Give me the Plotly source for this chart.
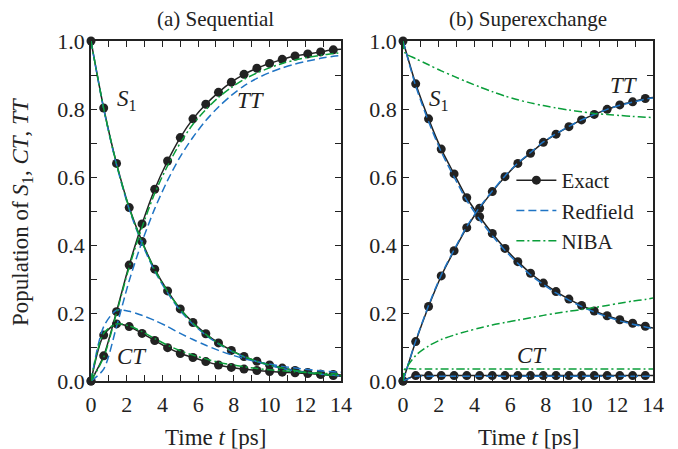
import plotly.graph_objects as go

# ---------------- data ----------------
t_mark = [0, 0.71, 1.43, 2.14, 2.86, 3.57, 4.29, 5.0, 5.71, 6.43, 7.14,
          7.86, 8.57, 9.29, 10.0, 10.71, 11.43, 12.14, 12.86, 13.57]
t_line = [0, 0.71, 1.43, 2.14, 2.86, 3.57, 4.29, 5.0, 5.71, 6.43, 7.14,
          7.86, 8.57, 9.29, 10.0, 10.71, 11.43, 12.14, 12.86, 13.57, 14.0]

# (a) Sequential
s1_a = [1.0, 0.803, 0.640, 0.510, 0.410, 0.329, 0.265, 0.212, 0.172, 0.139, 0.112,
        0.090, 0.072, 0.058, 0.047, 0.038, 0.031, 0.025, 0.020, 0.016, 0.014]
ct_a = [0.0, 0.135, 0.168, 0.160, 0.140, 0.119, 0.098, 0.081, 0.069, 0.057, 0.047,
        0.040, 0.035, 0.031, 0.028, 0.026, 0.024, 0.022, 0.020, 0.019, 0.018]
tt_a = [0.0, 0.074, 0.204, 0.341, 0.462, 0.564, 0.647, 0.716, 0.771, 0.814, 0.849,
        0.879, 0.902, 0.920, 0.934, 0.946, 0.956, 0.962, 0.968, 0.974, 0.976]

s1_a_red = [1.0, 0.800, 0.636, 0.505, 0.404, 0.323, 0.259, 0.207, 0.167, 0.135, 0.109,
            0.088, 0.071, 0.057, 0.046, 0.037, 0.030, 0.025, 0.020, 0.017, 0.015]
ct_a_red = [0.0, 0.160, 0.208, 0.205, 0.193, 0.178, 0.160, 0.140, 0.122, 0.105, 0.090,
            0.077, 0.066, 0.057, 0.050, 0.043, 0.038, 0.034, 0.030, 0.027, 0.026]
tt_a_red = [0.0, 0.035, 0.160, 0.295, 0.410, 0.507, 0.590, 0.660, 0.717, 0.766, 0.806,
            0.840, 0.868, 0.890, 0.907, 0.921, 0.932, 0.941, 0.949, 0.955, 0.957]

s1_a_niba = [1.0, 0.802, 0.638, 0.508, 0.408, 0.327, 0.263, 0.211, 0.170, 0.137, 0.111,
             0.089, 0.072, 0.058, 0.047, 0.038, 0.031, 0.025, 0.020, 0.017, 0.015]
ct_a_niba = [0.0, 0.140, 0.168, 0.162, 0.145, 0.125, 0.105, 0.089, 0.076, 0.065, 0.055,
             0.048, 0.042, 0.037, 0.033, 0.030, 0.027, 0.025, 0.023, 0.021, 0.020]
tt_a_niba = [0.0, 0.070, 0.200, 0.335, 0.452, 0.552, 0.633, 0.700, 0.755, 0.798, 0.834,
             0.863, 0.887, 0.906, 0.921, 0.934, 0.944, 0.952, 0.958, 0.963, 0.966]

# (b) Superexchange
s1_b = [1.0, 0.874, 0.771, 0.682, 0.609, 0.539, 0.483, 0.434, 0.390, 0.351, 0.317,
        0.288, 0.263, 0.241, 0.222, 0.206, 0.192, 0.180, 0.170, 0.161, 0.156]
ct_b = [0.0, 0.016, 0.016, 0.016, 0.016, 0.016, 0.016, 0.016, 0.016, 0.016, 0.016,
        0.016, 0.016, 0.016, 0.016, 0.016, 0.016, 0.016, 0.016, 0.016, 0.016]
tt_b = [0.0, 0.116, 0.219, 0.309, 0.383, 0.451, 0.508, 0.557, 0.601, 0.640, 0.670,
        0.702, 0.726, 0.748, 0.768, 0.784, 0.799, 0.812, 0.821, 0.831, 0.834]

s1_b_red = [1.0, 0.868, 0.763, 0.674, 0.600, 0.531, 0.475, 0.427, 0.384, 0.346, 0.312,
            0.284, 0.259, 0.238, 0.219, 0.203, 0.189, 0.177, 0.167, 0.159, 0.154]
ct_b_red = [0.0, 0.014, 0.014, 0.014, 0.014, 0.014, 0.014, 0.014, 0.014, 0.014, 0.014,
            0.014, 0.014, 0.014, 0.014, 0.014, 0.014, 0.014, 0.014, 0.014, 0.014]
tt_b_red = [0.0, 0.118, 0.222, 0.312, 0.386, 0.454, 0.511, 0.559, 0.603, 0.641, 0.672,
            0.703, 0.727, 0.749, 0.768, 0.784, 0.799, 0.811, 0.820, 0.829, 0.832]

t_niba_b = [0, 0.1, 0.71, 1.43, 2.14, 2.86, 3.57, 4.29, 5.0, 5.71, 6.43, 7.14,
            7.86, 8.57, 9.29, 10.0, 10.71, 11.43, 12.14, 12.86, 13.57, 14.0]
s1_b_niba = [1.0, 0.966, 0.948, 0.930, 0.912, 0.896, 0.880, 0.865, 0.851, 0.838, 0.827,
             0.818, 0.810, 0.803, 0.797, 0.792, 0.787, 0.784, 0.781, 0.778, 0.776, 0.775]
ct_b_niba = [0.0, 0.035, 0.035, 0.035, 0.035, 0.035, 0.035, 0.035, 0.035, 0.035, 0.035,
             0.035, 0.035, 0.035, 0.035, 0.035, 0.035, 0.035, 0.035, 0.035, 0.035, 0.035]
tt_b_niba = [0.0, 0.030, 0.075, 0.103, 0.122, 0.135, 0.146, 0.156, 0.165, 0.172, 0.179,
             0.186, 0.193, 0.199, 0.205, 0.210, 0.216, 0.222, 0.229, 0.235, 0.240, 0.244]

x_tickvals = list(range(0, 15))
x_ticktext = [str(v) if v % 2 == 0 else "" for v in x_tickvals]
y_tickvals = [0, 0.1, 0.2, 0.3, 0.4, 0.5, 0.6, 0.7, 0.8, 0.9, 1.0]
y_ticktext = ["0.0", "", "0.2", "", "0.4", "", "0.6", "", "0.8", "", "1.0"]

# ---------------- style ----------------
FONT = "Liberation Serif, Times New Roman, serif"
BLACK = "#222222"
BLUE = "#1f74c4"
GREEN = "#0a9e3a"
RED_DASH = "8px,4px"
NIBA_DASH = "8px,3px,2px,3px"

fig = go.Figure()

panels = [
    ("x", "y", t_line, t_line, [s1_a, ct_a, tt_a], [s1_a_red, ct_a_red, tt_a_red],
     [s1_a_niba, ct_a_niba, tt_a_niba]),
    ("x2", "y2", t_line, t_niba_b, [s1_b, ct_b, tt_b], [s1_b_red, ct_b_red, tt_b_red],
     [s1_b_niba, ct_b_niba, tt_b_niba]),
]

for xa, ya, tl, tn, ex, red, nib in panels:
    for ys in ex:
        fig.add_trace(go.Scatter(x=tl, y=ys, xaxis=xa, yaxis=ya, mode="lines",
                                 line=dict(color=BLACK, width=1.5, shape="spline", smoothing=0.8),
                                 showlegend=False, cliponaxis=False))
        fig.add_trace(go.Scatter(x=t_mark, y=ys[:len(t_mark)], xaxis=xa, yaxis=ya, mode="markers",
                                 marker=dict(color=BLACK, size=9, symbol="circle"),
                                 showlegend=False, cliponaxis=False))
    for ys in red:
        fig.add_trace(go.Scatter(x=tl, y=ys, xaxis=xa, yaxis=ya, mode="lines",
                                 line=dict(color=BLUE, width=1.5, dash=RED_DASH,
                                           shape="spline", smoothing=0.8),
                                 showlegend=False, cliponaxis=False))
    for ys in nib:
        fig.add_trace(go.Scatter(x=tn, y=ys, xaxis=xa, yaxis=ya, mode="lines",
                                 line=dict(color=GREEN, width=1.5, dash=NIBA_DASH,
                                           shape="spline", smoothing=0.8),
                                 showlegend=False, cliponaxis=False))

# legend-only entries
fig.add_trace(go.Scatter(x=[None], y=[None], xaxis="x2", yaxis="y2", mode="lines+markers",
                         name="Exact", line=dict(color=BLACK, width=1.5),
                         marker=dict(color=BLACK, size=9)))
fig.add_trace(go.Scatter(x=[None], y=[None], xaxis="x2", yaxis="y2", mode="lines",
                         name="Redfield", line=dict(color=BLUE, width=1.5, dash=RED_DASH)))
fig.add_trace(go.Scatter(x=[None], y=[None], xaxis="x2", yaxis="y2", mode="lines",
                         name="NIBA", line=dict(color=GREEN, width=1.5, dash=NIBA_DASH)))

axis_common = dict(showgrid=False, zeroline=False, showline=True, linecolor=BLACK, linewidth=1.5,
                   mirror="ticks", ticks="inside", ticklen=6, tickwidth=1, tickcolor=BLACK,
                   tickfont=dict(family=FONT, size=22, color=BLACK))

xax = dict(axis_common, range=[0, 14], tickmode="array", tickvals=x_tickvals,
           ticktext=x_ticktext, ticklabelstandoff=3)
yax = dict(axis_common, range=[0, 1], tickmode="array", tickvals=y_tickvals,
           ticktext=y_ticktext)

# page body adds an ~8px offset, so the figure is 8px smaller and margins shifted
fig.update_layout(
    width=670, height=441,
    margin=dict(l=83, r=25, t=33, b=68),
    paper_bgcolor="white", plot_bgcolor="white",
    font=dict(family=FONT, size=22, color=BLACK),
    xaxis=dict(xax, domain=[0, 0.4448], anchor="y"),
    yaxis=dict(yax, domain=[0, 1], anchor="x"),
    xaxis2=dict(xax, domain=[0.5552, 1], anchor="y2"),
    yaxis2=dict(yax, domain=[0, 1], anchor="x2"),
    legend=dict(x=0.748, y=0.65, xanchor="left", yanchor="top", bgcolor="rgba(255,255,255,0)",
                font=dict(family=FONT, size=21, color=BLACK), itemwidth=40,
                tracegroupgap=0),
    showlegend=True,
)

TXT = dict(family=FONT, size=23, color=BLACK)
TITLE = dict(family=FONT, size=21, color=BLACK)
ann_font = dict(family=FONT, size=23, color=BLACK)
annotations = [
    dict(text="(a) Sequential", xref="paper", yref="paper", x=0.2224, y=1.0, yshift=22,
         xanchor="center", yanchor="middle", showarrow=False, font=TITLE),
    dict(text="(b) Superexchange", xref="paper", yref="paper", x=0.7776, y=1.0, yshift=22,
         xanchor="center", yanchor="middle", showarrow=False, font=TITLE),
    dict(text="Time <i>t</i> [ps]", xref="paper", yref="paper", x=0.2224, y=-0.165,
         xanchor="center", yanchor="middle", showarrow=False, font=TXT),
    dict(text="Time <i>t</i> [ps]", xref="paper", yref="paper", x=0.7776, y=-0.165,
         xanchor="center", yanchor="middle", showarrow=False, font=TXT),
    dict(text="Population of <i>S</i><sub>1</sub>, <i>CT</i>, <i>TT</i>", xref="paper",
         yref="paper", x=-0.1228, y=0.5, textangle=-90, xanchor="center", yanchor="middle",
         showarrow=False, font=TXT),
    dict(text="<i>S</i><sub>1</sub>", xref="x", yref="y", x=2.0, y=0.826, showarrow=False, font=ann_font),
    dict(text="<i>TT</i>", xref="x", yref="y", x=8.95, y=0.826, showarrow=False, font=ann_font),
    dict(text="<i>CT</i>", xref="x", yref="y", x=2.3, y=0.072, showarrow=False, font=ann_font),
    dict(text="<i>S</i><sub>1</sub>", xref="x2", yref="y2", x=2.0, y=0.826, showarrow=False, font=ann_font),
    dict(text="<i>TT</i>", xref="x2", yref="y2", x=12.4, y=0.87, showarrow=False, font=ann_font),
    dict(text="<i>CT</i>", xref="x2", yref="y2", x=7.2, y=0.074, showarrow=False, font=ann_font),
]
fig.update_layout(annotations=annotations)

fig.write_html("out.html")
